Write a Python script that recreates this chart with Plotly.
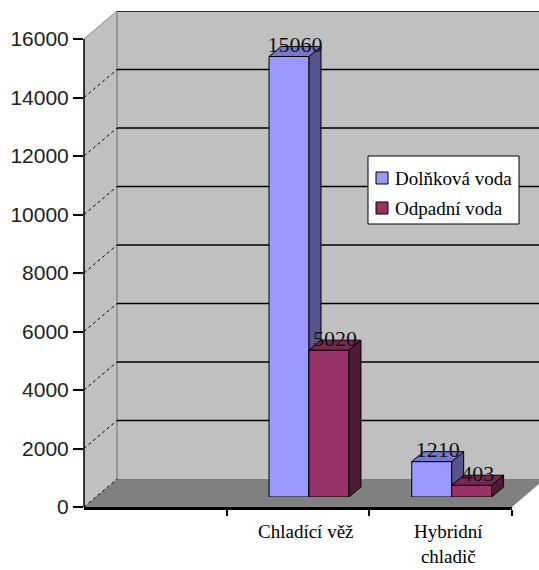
import plotly.graph_objects as go

# ---- data ----
categories = ["", "Chladící věž", "Hybridní<br>chladič"]
series_names = ["Dolňková voda", "Odpadní voda"]
dolnkova_voda = [None, 15060, 1210]
odpadni_voda = [None, 5020, 403]
y_ticks = [0, 2000, 4000, 6000, 8000, 10000, 12000, 14000, 16000]

# ---- styling / layout constants ----
W, H = 539, 570
FRONT_L, FRONT_R, FRONT_B, FRONT_T = 84, 512, 507, 39
BAR_SHIFT = (11, 10)      # bars plane offset (px right, px up)
BACK_SHIFT = (33, 28)     # back wall offset
DEPTH = (12, 10)          # bar depth in px
YMAX = 16000
NCAT = len(categories)
BAR_W = 0.28

blue = dict(front="#9999FF", side="#55558C", top="#7777CC")
red = dict(front="#993366", side="#4F1A36", top="#772850")
SERIF = "Liberation Serif"


def px(x):
    return x / W


def py(y):
    return 1 - y / H


u_y = YMAX / (FRONT_B - FRONT_T)          # value units per px
u_x = NCAT / (FRONT_R - FRONT_L)          # category units per px
dx, dy = DEPTH[0] * u_x, DEPTH[1] * u_y
back_dy = BACK_SHIFT[1] * u_y
centers = [i + 0.5 for i in range(NCAT)]

fig = go.Figure()


def add_series(values, name, col, offset, xa, ya):
    xs = [c for c, v in zip(centers, values) if v is not None]
    vs = [v for v in values if v is not None]
    fig.add_trace(go.Bar(
        x=xs, y=vs, name=name, width=BAR_W, offset=offset,
        marker=dict(color=col["front"], line=dict(color="black", width=1)),
        xaxis=xa, yaxis=ya, hoverinfo="skip", showlegend=False))
    sx, sy, tx, ty = [], [], [], []
    for c, v in zip(xs, vs):
        xl = c + offset
        xr = xl + BAR_W
        sx += [xr, xr + dx, xr + dx, xr, xr, None]
        sy += [0, dy, v + dy, v, 0, None]
        tx += [xl, xl + dx, xr + dx, xr, xl, None]
        ty += [v, v + dy, v + dy, v, v, None]
    fig.add_trace(go.Scatter(x=sx, y=sy, fill="toself", fillcolor=col["side"],
                             mode="lines", line=dict(color="black", width=1),
                             showlegend=False, xaxis=xa, yaxis=ya, hoverinfo="skip"))
    fig.add_trace(go.Scatter(x=tx, y=ty, fill="toself", fillcolor=col["top"],
                             mode="lines", line=dict(color="black", width=1),
                             showlegend=False, xaxis=xa, yaxis=ya, hoverinfo="skip"))
    return xs, vs


bx, bv = add_series(dolnkova_voda, series_names[0], blue, -BAR_W, "x2", "y2")
rx, rv = add_series(odpadni_voda, series_names[1], red, 0.0, "x3", "y3")

# data labels
lx, ly, lt = [], [], []
for xs, vs, off in ((bx, bv, -BAR_W), (rx, rv, 0.0)):
    for c, v in zip(xs, vs):
        lx.append(c + off + BAR_W / 2 + dx / 2)
        ly.append(v + dy)
        lt.append(str(v))
fig.add_trace(go.Scatter(x=lx, y=ly, text=lt, mode="text", textposition="middle center",
                         textfont=dict(family=SERIF, size=22, color="#111111"),
                         showlegend=False, xaxis="x3", yaxis="y3", hoverinfo="skip",
                         cliponaxis=False))

# ---- walls, floor, gridlines (decoration) ----
shapes = []
bl, br = px(FRONT_L + BACK_SHIFT[0]), px(FRONT_R + BACK_SHIFT[0])
fl, fr = px(FRONT_L), px(FRONT_R)
# back wall
shapes.append(dict(type="rect", xref="paper", yref="y", x0=bl, x1=br,
                   y0=back_dy, y1=YMAX + back_dy, fillcolor="#C0C0C0",
                   line=dict(width=0), layer="below"))
# side wall
shapes.append(dict(type="path", xref="paper", yref="y",
                   path=f"M{fl},0 L{fl},{YMAX} L{bl},{YMAX + back_dy} L{bl},{back_dy} Z",
                   fillcolor="#C0C0C0", line=dict(width=0), layer="below"))
# floor
shapes.append(dict(type="path", xref="paper", yref="y",
                   path=f"M{fl},0 L{bl},{back_dy} L{br},{back_dy} L{fr},0 Z",
                   fillcolor="#808080", line=dict(width=0), layer="below"))
# wall edges
shapes.append(dict(type="line", xref="paper", yref="y", x0=bl, x1=bl,
                   y0=back_dy, y1=YMAX + back_dy, line=dict(color="#8A8A8A", width=1.5),
                   layer="below"))
shapes.append(dict(type="line", xref="paper", yref="y", x0=fl, x1=bl,
                   y0=YMAX, y1=YMAX + back_dy, line=dict(color="#8A8A8A", width=1),
                   layer="below"))
for v in y_ticks[1:]:
    shapes.append(dict(type="line", xref="paper", yref="y", x0=bl, x1=br,
                       y0=v + back_dy, y1=v + back_dy,
                       line=dict(color="black", width=1.5), layer="below"))
for v in y_ticks[:-1]:
    shapes.append(dict(type="line", xref="paper", yref="y", x0=fl, x1=bl,
                       y0=v, y1=v + back_dy,
                       line=dict(color="black", width=1, dash="dot"), layer="below"))
# front vertical axis line (only up to the top tick)
shapes.append(dict(type="line", xref="paper", yref="y", x0=fl, x1=fl,
                   y0=0, y1=YMAX, line=dict(color="black", width=1.5)))

# ---- manual legend ----
LEG = dict(l=368, t=156, r=519, b=224)
shapes.append(dict(type="rect", xref="paper", yref="paper",
                   x0=px(LEG["l"]), x1=px(LEG["r"]), y0=py(LEG["b"]), y1=py(LEG["t"]),
                   fillcolor="white", line=dict(color="black", width=1)))
annotations = []
for i, (name, col) in enumerate(((series_names[0], blue), (series_names[1], red))):
    cy = 178 + 30 * i
    shapes.append(dict(type="rect", xref="paper", yref="paper",
                       x0=px(376), x1=px(388), y0=py(cy + 6), y1=py(cy - 6),
                       fillcolor=col["front"], line=dict(color="black", width=1)))
    annotations.append(dict(x=px(393), y=py(cy), xref="paper", yref="paper",
                            xanchor="left", yanchor="middle", text=name, showarrow=False,
                            font=dict(family=SERIF, size=19, color="black")))

# category labels
for c, lab in zip(centers, categories):
    if lab:
        annotations.append(dict(x=c - 0.02, xref="x2", y=py(519), yref="paper",
                                yanchor="top", xanchor="center", text=lab, showarrow=False,
                                font=dict(family=SERIF, size=19, color="black")))

fig.update_layout(
    width=W, height=H,
    margin=dict(l=0, r=0, t=0, b=0, pad=0),
    paper_bgcolor="white", plot_bgcolor="rgba(0,0,0,0)",
    shapes=shapes, annotations=annotations,
    showlegend=False,
    xaxis=dict(domain=[px(FRONT_L), px(FRONT_R)], range=[0, NCAT],
               tickvals=list(range(1, NCAT + 1)), ticktext=[""] * NCAT,
               ticks="outside", ticklen=6, tickcolor="black", tickwidth=1.5,
               showline=True, linecolor="black", linewidth=2.5, showgrid=False,
               zeroline=False, automargin=False),
    yaxis=dict(domain=[py(FRONT_B), py(FRONT_T - BACK_SHIFT[1])],
               range=[0, YMAX + back_dy],
               tickvals=y_ticks, ticktext=[str(v) for v in y_ticks],
               ticks="outside", ticklen=10, tickcolor="black",
               tickwidth=1.5, showline=False, showgrid=False, zeroline=False,
               automargin=False, ticklabelstandoff=0,
               tickfont=dict(family="Liberation Sans", size=21, color="#222222")),
    xaxis2=dict(domain=[px(FRONT_L + BAR_SHIFT[0]), px(FRONT_R + BAR_SHIFT[0])],
                range=[0, NCAT], anchor="y2", visible=False, automargin=False),
    yaxis2=dict(domain=[py(FRONT_B - BAR_SHIFT[1]), py(FRONT_T - BAR_SHIFT[1])],
                range=[0, YMAX], anchor="x2", visible=False, automargin=False),
    xaxis3=dict(overlaying="x2", range=[0, NCAT], anchor="y3", visible=False,
                automargin=False),
    yaxis3=dict(overlaying="y2", range=[0, YMAX], anchor="x3", visible=False,
                automargin=False),
)

fig.write_html("out.html")
